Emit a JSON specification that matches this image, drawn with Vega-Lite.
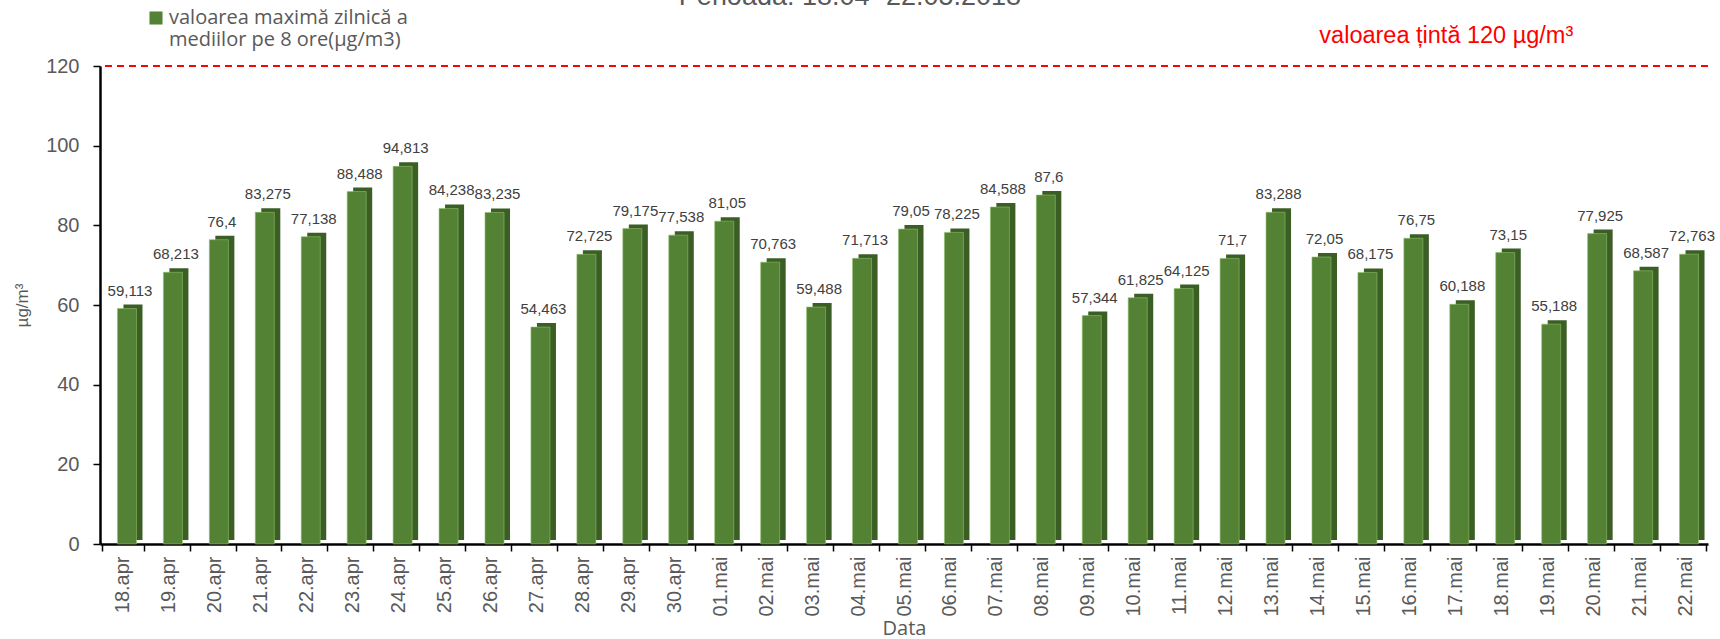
{
  "$schema": "https://vega.github.io/schema/vega-lite/v6.json",
  "width": 1608,
  "height": 478,
  "autosize": "none",
  "padding": {"left": 100, "top": 66, "right": 12, "bottom": 95},
  "background": "white",
  "title": {"text": "Perioada: 18.04- 22.05.2018", "fontSize": 27, "font": "Liberation Sans", "fontWeight": "normal", "color": "#595959", "anchor": "middle", "baseline": "bottom", "dx": -54, "offset": 0, "dy": 30},
  "config": {"view": {"stroke": null}},
  "data": {"values": [
    {"d": "18.apr", "v": 59.113, "label": "59,113"},
    {"d": "19.apr", "v": 68.213, "label": "68,213"},
    {"d": "20.apr", "v": 76.4, "label": "76,4"},
    {"d": "21.apr", "v": 83.275, "label": "83,275"},
    {"d": "22.apr", "v": 77.138, "label": "77,138"},
    {"d": "23.apr", "v": 88.488, "label": "88,488"},
    {"d": "24.apr", "v": 94.813, "label": "94,813"},
    {"d": "25.apr", "v": 84.238, "label": "84,238"},
    {"d": "26.apr", "v": 83.235, "label": "83,235"},
    {"d": "27.apr", "v": 54.463, "label": "54,463"},
    {"d": "28.apr", "v": 72.725, "label": "72,725"},
    {"d": "29.apr", "v": 79.175, "label": "79,175"},
    {"d": "30.apr", "v": 77.538, "label": "77,538"},
    {"d": "01.mai", "v": 81.05, "label": "81,05"},
    {"d": "02.mai", "v": 70.763, "label": "70,763"},
    {"d": "03.mai", "v": 59.488, "label": "59,488"},
    {"d": "04.mai", "v": 71.713, "label": "71,713"},
    {"d": "05.mai", "v": 79.05, "label": "79,05"},
    {"d": "06.mai", "v": 78.225, "label": "78,225"},
    {"d": "07.mai", "v": 84.588, "label": "84,588"},
    {"d": "08.mai", "v": 87.6, "label": "87,6"},
    {"d": "09.mai", "v": 57.344, "label": "57,344"},
    {"d": "10.mai", "v": 61.825, "label": "61,825"},
    {"d": "11.mai", "v": 64.125, "label": "64,125"},
    {"d": "12.mai", "v": 71.7, "label": "71,7"},
    {"d": "13.mai", "v": 83.288, "label": "83,288"},
    {"d": "14.mai", "v": 72.05, "label": "72,05"},
    {"d": "15.mai", "v": 68.175, "label": "68,175"},
    {"d": "16.mai", "v": 76.75, "label": "76,75"},
    {"d": "17.mai", "v": 60.188, "label": "60,188"},
    {"d": "18.mai", "v": 73.15, "label": "73,15"},
    {"d": "19.mai", "v": 55.188, "label": "55,188"},
    {"d": "20.mai", "v": 77.925, "label": "77,925"},
    {"d": "21.mai", "v": 68.587, "label": "68,587"},
    {"d": "22.mai", "v": 72.763, "label": "72,763"}
  ]},
  "encoding": {
    "x": {
      "field": "d", "type": "nominal",
      "scale": {"domain": ["18.apr","19.apr","20.apr","21.apr","22.apr","23.apr","24.apr","25.apr","26.apr","27.apr","28.apr","29.apr","30.apr","01.mai","02.mai","03.mai","04.mai","05.mai","06.mai","07.mai","08.mai","09.mai","10.mai","11.mai","12.mai","13.mai","14.mai","15.mai","16.mai","17.mai","18.mai","19.mai","20.mai","21.mai","22.mai"]},
      "axis": {"title": "Data", "labelAngle": -90, "tickBand": "extent", "labelFontSize": 20, "labelFont": "Liberation Sans", "labelColor": "#595959", "labelPadding": 5, "domainColor": "black", "domainWidth": 2.5, "tickColor": "black", "tickWidth": 1.5, "tickSize": 7, "titleFontSize": 20, "titleFont": "Open Sans", "titleColor": "#595959", "titleFontWeight": "normal", "titlePadding": 2}
    }
  },
  "layer": [
    {
      "mark": {"type": "bar", "color": "#3b5e25", "xOffset": 10, "yOffset": -4, "width": {"band": 0.46}},
      "encoding": {
        "y": {"field": "v", "type": "quantitative", "scale": {"domain": [0, 120], "nice": false},
          "axis": {"title": "µg/m³", "values": [0, 20, 40, 60, 80, 100, 120], "grid": false, "labelFontSize": 20, "labelFont": "Liberation Sans", "labelColor": "#595959", "labelPadding": 14, "domainColor": "black", "domainWidth": 2.5, "tickColor": "black", "tickWidth": 1.5, "tickSize": 7, "titleFontSize": 17, "titleFont": "Liberation Sans", "titleColor": "#595959", "titleFontWeight": "normal", "titlePadding": 14}}
      }
    },
    {
      "mark": {"type": "bar", "xOffset": 4, "width": {"band": 0.46}, "stroke": "#8fbf6a", "strokeWidth": 0.6},
      "encoding": {
        "y": {"field": "v", "type": "quantitative"},
        "color": {"datum": "valoarea maximă zilnică a", "scale": {"range": ["#548235"]},
          "legend": {"title": null, "orient": "none", "legendX": 46, "legendY": -58, "symbolType": "square", "symbolSize": 170, "symbolStrokeWidth": 0, "labelFontSize": 20, "labelFont": "Open Sans", "labelColor": "#595959", "labelOffset": 3, "labelExpr": "['valoarea maximă zilnică a', 'mediilor pe 8 ore(µg/m3)']", "labelLimit": 400,
            "encode": {"labels": {"update": {"lineHeight": {"value": 24}}}}}}
      }
    },
    {
      "mark": {"type": "text", "baseline": "bottom", "dy": -10, "xOffset": 7, "fontSize": 15, "font": "Liberation Sans", "color": "#404040"},
      "encoding": {
        "y": {"field": "v", "type": "quantitative"},
        "text": {"field": "label"}
      }
    },
    {
      "mark": {"type": "rule", "color": "#ff0000", "strokeDash": [7, 5], "strokeWidth": 2},
      "encoding": {"y": {"datum": 120}, "x": null}
    },
    {
      "transform": [{"filter": "datum.d == '17.mai'"}],
      "mark": {"type": "text", "baseline": "middle", "dy": -30, "dx": -9, "fontSize": 23.5, "font": "Liberation Sans", "color": "#ff0000"},
      "encoding": {
        "y": {"datum": 120},
        "text": {"value": "valoarea țintă 120 µg/m³"}
      }
    }
  ]
}
